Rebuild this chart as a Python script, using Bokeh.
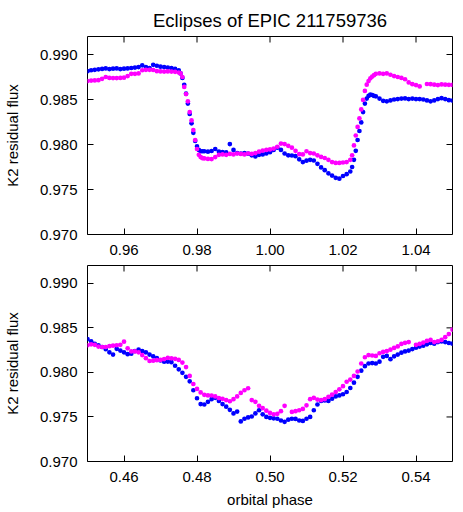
import math
from bokeh.plotting import figure
from bokeh.layouts import column
from bokeh.models import FixedTicker, NumeralTickFormatter, Range1d
from bokeh.embed import file_html
from bokeh.resources import INLINE

nan = float("nan")

# ---------------- primary eclipse (top panel) ----------------
phase_primary = [
    0.950, 0.951, 0.952, 0.953, 0.954, 0.955, 0.956, 0.957, 0.958, 0.959,
    0.960, 0.961, 0.962, 0.963, 0.964, 0.965, 0.966, 0.967, 0.968, 0.969,
    0.970, 0.971, 0.972, 0.973, 0.974, 0.975,
    0.9755, 0.9760, 0.9765, 0.9770, 0.9775, 0.9780, 0.9785, 0.9790, 0.9795,
    0.9800, 0.9805, 0.9810, 0.9815,
    0.982, 0.983, 0.984, 0.985, 0.986, 0.987, 0.988, 0.989, 0.990, 0.991,
    0.992, 0.993, 0.994, 0.995, 0.996, 0.997, 0.998, 0.999, 1.000, 1.001,
    1.002, 1.003, 1.004, 1.005, 1.006, 1.007, 1.008, 1.009, 1.010, 1.011,
    1.012, 1.013, 1.014, 1.015, 1.016, 1.017, 1.018, 1.019, 1.020, 1.021,
    1.022,
    1.0225, 1.0230, 1.0235, 1.0240, 1.0245, 1.0250, 1.0255, 1.0260, 1.0265,
    1.0270, 1.0275, 1.0280, 1.0285,
    1.029, 1.030, 1.031, 1.032, 1.033, 1.034, 1.035, 1.036, 1.037, 1.038,
    1.039, 1.040, 1.041, 1.042, 1.043, 1.044, 1.045, 1.046, 1.047, 1.048,
    1.049, 1.050,
]
flux_primary_blue = [
    0.98815, 0.98825, 0.98830, 0.98835, 0.98840, 0.98845, 0.98838, 0.98842, 0.98845, 0.98838,
    0.98842, 0.98845, 0.98850, 0.98855, 0.98860, 0.98880, 0.98860, 0.98850, 0.98885, 0.98875,
    0.98865, 0.98860, 0.98855, 0.98850, 0.98840, 0.98825,
    0.98790, 0.98740, 0.98663, 0.98565, 0.98455, 0.98340, 0.98235, 0.98130, 0.98040,
    0.97980, 0.97940, 0.97925, 0.97925,
    0.97925, 0.97920, 0.97928, 0.97950, 0.97920, 0.97915, 0.97912, 0.98005, 0.97940, 0.97905,
    0.97900, 0.97905, 0.97898, 0.97880, 0.97868, 0.97885, 0.97890, 0.97900, 0.97915, 0.97940,
    0.97965, 0.97940, 0.97900, 0.97880, 0.97878, 0.97870, 0.97835, 0.97805, 0.97820, 0.97830,
    0.97822, 0.97785, 0.97745, 0.97715, 0.97680, 0.97655, 0.97630, 0.97620, 0.97650, 0.97670,
    0.97700,
    0.97750, 0.97830, 0.97930, 0.98050, 0.98150, 0.98245, 0.98360, 0.98455, 0.98510,
    0.98540, 0.98555, 0.98550, 0.98540,
    0.98535, 0.98510, 0.98485, 0.98480, 0.98490, 0.98500, 0.98505, 0.98510, 0.98512, 0.98505,
    0.98510, 0.98505, 0.98505, 0.98500, 0.98490, 0.98480, 0.98490, 0.98505, 0.98515, 0.98505,
    0.98492, 0.98488,
]
flux_primary_magenta = [
    0.98705, 0.98710, 0.98712, 0.98715, 0.98730, 0.98750, 0.98740, 0.98738, 0.98738, 0.98740,
    0.98742, 0.98760, 0.98785, 0.98785, 0.98790, 0.98825, 0.98830, 0.98830, 0.98828, 0.98815,
    0.98812, 0.98810, 0.98812, 0.98810, 0.98808, 0.98800,
    0.98790, 0.98750, 0.98640, 0.98560, 0.98480, 0.98360, 0.98267, 0.98160, 0.98050,
    0.97950, 0.97885, 0.97860, 0.97848,
    0.97845, 0.97840, 0.97838, 0.97860, 0.97885, 0.97890, 0.97885, 0.97895, 0.97890, 0.97900,
    0.97895, 0.97890, 0.97900, 0.97895, 0.97905, 0.97920, 0.97933, 0.97940, 0.97945, 0.97955,
    0.97975, 0.98010, 0.98005, 0.97985, 0.97965, 0.97930, 0.97892, 0.97890, 0.97925, 0.97905,
    0.97900, 0.97880, 0.97862, 0.97850, 0.97830, 0.97805, 0.97795, 0.97795, 0.97800, 0.97805,
    0.97830,
    0.97880, 0.97990, 0.98100, 0.98195, 0.98290, 0.98390, 0.98495, 0.98595, 0.98665,
    0.98705, 0.98735, 0.98755, 0.98770,
    0.98785, 0.98790, 0.98785, 0.98790, 0.98775, 0.98760, 0.98750, 0.98740, 0.98725, 0.98690,
    0.98670, 0.98660, 0.98645, nan, 0.98672, 0.98670, 0.98665, 0.98660, 0.98668, 0.98665,
    0.98663, 0.98662,
]

# ---------------- secondary eclipse (bottom panel) ----------------
phase_secondary = [
    0.450, 0.451, 0.452, 0.453, 0.454, 0.455, 0.456, 0.457, 0.458, 0.459,
    0.460, 0.461, 0.462, 0.463, 0.464, 0.465, 0.466, 0.467, 0.468, 0.469,
    0.470, 0.471, 0.472, 0.473, 0.474, 0.475, 0.476, 0.477, 0.478, 0.479,
    0.480, 0.481, 0.482, 0.483, 0.484, 0.485, 0.486, 0.487, 0.488, 0.489,
    0.490, 0.491, 0.492, 0.493, 0.494, 0.495, 0.496, 0.497, 0.498, 0.499,
    0.500, 0.501, 0.502, 0.503, 0.504, 0.505, 0.506, 0.507, 0.508, 0.509,
    0.510, 0.511, 0.512, 0.513, 0.514, 0.515, 0.516, 0.517, 0.518, 0.519,
    0.520, 0.521, 0.522, 0.523, 0.524, 0.525, 0.526, 0.527, 0.528, 0.529,
    0.530, 0.531, 0.532, 0.533, 0.534, 0.535, 0.536, 0.537, 0.538, 0.539,
    0.540, 0.541, 0.542, 0.543, 0.544, 0.545, 0.546, 0.547, 0.548, 0.549,
    0.550,
]
flux_secondary_blue = [
    0.98375, 0.98350, 0.98320, 0.98305, 0.98285, 0.98260, 0.98225, 0.98200, 0.98265, 0.98245,
    0.98225, 0.98205, 0.98210, 0.98240, 0.98255, 0.98240, 0.98225, 0.98200, 0.98180, 0.98160,
    0.98135, 0.98120, 0.98122, 0.98115, 0.98075, 0.98035, 0.97995, 0.97950, 0.97900, 0.97800,
    0.97710, 0.97645, 0.97640, 0.97670, 0.97700, 0.97715, 0.97680, 0.97645, 0.97615, 0.97580,
    0.97540, 0.97560, 0.97450, 0.97480, 0.97495, 0.97505, 0.97540, 0.97575, 0.97530, 0.97500,
    0.97490, 0.97485, 0.97480, 0.97460, 0.97445, 0.97470, 0.97480, 0.97478, 0.97460, 0.97455,
    0.97480, 0.97500, 0.97575, 0.97640, 0.97680, 0.97685, 0.97680, 0.97705, 0.97730, 0.97742,
    0.97755, 0.97780, 0.97825, 0.97885, 0.97950, 0.98020, 0.98070, 0.98100, 0.98105, 0.98100,
    0.98120, 0.98175, 0.98185, 0.98148, 0.98180, 0.98200, 0.98222, 0.98235, 0.98245, 0.98262,
    0.98278, 0.98290, 0.98300, 0.98315, 0.98330, 0.98322, 0.98340, 0.98348, 0.98340, 0.98330,
    0.98322,
]
flux_secondary_magenta = [
    0.98305, 0.98315, 0.98310, 0.98290, 0.98285, 0.98285, 0.98295, 0.98300, 0.98305, 0.98310,
    0.98345, 0.98270, 0.98235, 0.98235, 0.98225, 0.98195, 0.98160, 0.98128, 0.98132, 0.98137,
    0.98140, 0.98150, 0.98163, 0.98158, 0.98152, 0.98140, 0.98110, 0.98060, 0.97960, 0.97870,
    0.97815, 0.97775, 0.97748, 0.97742, 0.97741, 0.97730, 0.97712, 0.97704, 0.97690, 0.97676,
    0.97700, 0.97730, 0.97770, 0.97800, 0.97822, 0.97690, 0.97670, 0.97625, 0.97600, 0.97570,
    0.97545, 0.97530, 0.97535, 0.97565, 0.97625, nan, 0.97556, 0.97565, 0.97575, 0.97590,
    0.97630, 0.97700, 0.97715, 0.97695, 0.97690, 0.97700, 0.97725, 0.97750, 0.97780, 0.97810,
    0.97845, 0.97895, 0.97920, 0.97960, 0.98010, 0.98100, 0.98170, 0.98195, 0.98190, 0.98185,
    0.98215, 0.98230, 0.98240, 0.98255, 0.98275, 0.98292, 0.98320, 0.98332, 0.98340, nan,
    0.98310, 0.98320, 0.98335, 0.98355, 0.98365, 0.98340, 0.98350, 0.98365, 0.98395, 0.98430,
    0.98480,
]

x_ticks_primary = [0.96, 0.98, 1.00, 1.02, 1.04]
x_ticks_secondary = [0.46, 0.48, 0.50, 0.52, 0.54]
y_ticks = [0.970, 0.975, 0.980, 0.985, 0.990]
x_range_primary = (0.95, 1.05)
x_range_secondary = (0.45, 0.55)
y_range = (0.970, 0.992)

title_text = "Eclipses of EPIC 211759736"
y_label = "K2 residual flux"
x_label = "orbital phase"

FONT = "Liberation Sans"
BLUE = "#0000ff"
MAGENTA = "#ff00ff"
TICK_LEN = 6


def style_axis(ax, ticks, fmt, label=None):
    ax.ticker = FixedTicker(ticks=ticks)
    ax.formatter = NumeralTickFormatter(format=fmt)
    ax.axis_line_color = None
    ax.major_tick_in = TICK_LEN
    ax.major_tick_out = 0
    ax.major_tick_line_color = "black"
    ax.major_tick_line_width = 1
    ax.minor_tick_line_color = None
    ax.major_label_text_font = FONT
    ax.major_label_text_font_size = "15px"
    ax.major_label_text_color = "black"
    ax.major_label_standoff = 10
    if label is not None:
        ax.axis_label = label
        ax.axis_label_text_font = FONT
        ax.axis_label_text_font_size = "15px"
        ax.axis_label_text_font_style = "normal"
        ax.axis_label_text_color = "black"


def make_panel(phase, blue, magenta, xr, xticks, height, btop, bbottom, title=None, xlabel=None):
    p = figure(
        width=455, height=height,
        x_range=Range1d(*xr), y_range=Range1d(*y_range),
        output_backend="svg", toolbar_location=None,
        min_border_left=83, min_border_right=3,
        min_border_top=btop, min_border_bottom=bbottom,
        title=title,
    )
    p.xgrid.visible = False
    p.ygrid.visible = False
    p.outline_line_color = "black"
    p.outline_line_width = 1
    p.outline_line_alpha = 1
    p.background_fill_color = "white"
    p.border_fill_color = "white"
    if title is not None:
        p.title.text_font = FONT
        p.title.text_font_size = "18.5px"
        p.title.text_font_style = "normal"
        p.title.text_color = "black"
        p.title.align = "center"
        p.title.vertical_align = "middle"
        p.title.standoff = 10
    style_axis(p.xaxis[0], xticks, "0.00", xlabel)
    style_axis(p.yaxis[0], y_ticks, "0.000", y_label)
    p.yaxis[0].axis_label_standoff = 16
    if xlabel is not None:
        p.xaxis[0].axis_label_standoff = 6
    # mirrored ticks on the top and right frame edges
    p.ray(x=xticks, y=[y_range[1]] * len(xticks), length=TICK_LEN, length_units="screen",
          angle=-math.pi / 2, line_color="black", line_width=1)
    p.ray(x=[xr[1]] * len(y_ticks), y=y_ticks, length=TICK_LEN, length_units="screen",
          angle=math.pi, line_color="black", line_width=1)
    p.scatter(phase, blue, size=4.7, color=BLUE, line_color=None)
    p.scatter(phase, magenta, size=4.7, color=MAGENTA, line_color=None)
    return p


p1 = make_panel(phase_primary, flux_primary_blue, flux_primary_magenta,
                x_range_primary, x_ticks_primary, 264, 36, 30, title=title_text)
p2 = make_panel(phase_secondary, flux_secondary_blue, flux_secondary_magenta,
                x_range_secondary, x_ticks_secondary, 246, 1, 48, xlabel=x_label)

layout = column(p1, p2, spacing=0)
open("out.html", "w").write(file_html(layout, INLINE))
